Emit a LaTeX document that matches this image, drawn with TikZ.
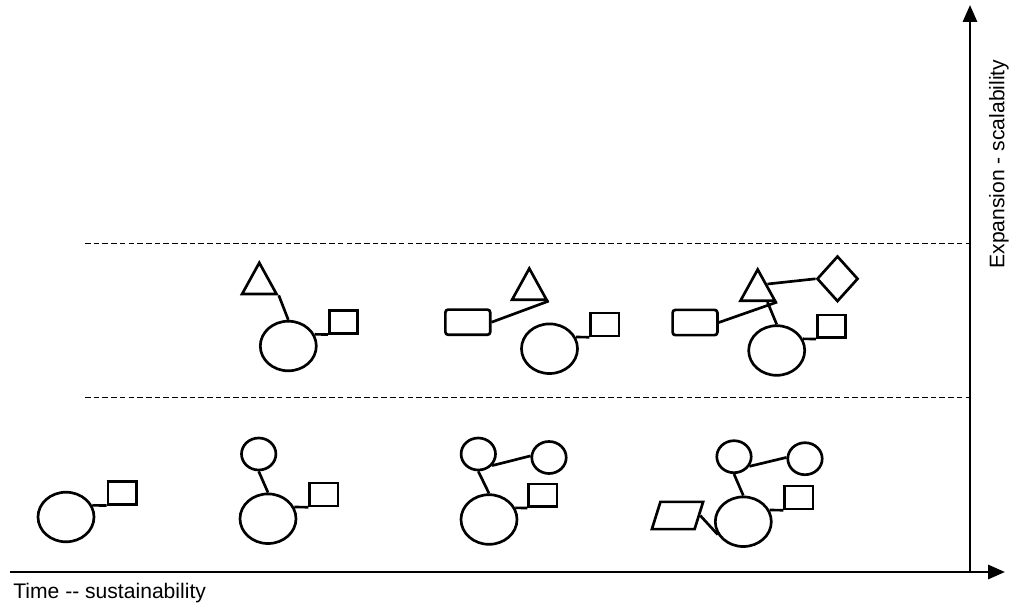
\documentclass[tikz,border=0pt]{standalone}
\usepackage{fontspec}
\setmainfont{Liberation Sans}
\usetikzlibrary{calc,arrows.meta,shapes.geometric}

\begin{document}
\begin{tikzpicture}[x=0.025cm,y=-0.025cm,line width=1.9pt,
	bigell/.style={draw,ellipse,inner sep=0,minimum width=1.4cm,minimum height=1.24cm},
	smallell/.style={draw,ellipse,inner sep=0,minimum width=0.86cm,minimum height=0.8cm},
	sqbox/.style={draw,rectangle,inner sep=0,minimum width=0.71cm,minimum height=0.57cm,anchor=south west},
	roundbox/.style={draw,rectangle,rounded corners=2pt,inner sep=0,minimum width=1.12cm,minimum height=0.63cm},
	tribox/.style={draw,isosceles triangle,isosceles triangle stretches,rotate=90,inner sep=0,minimum width=0.86cm,minimum height=0.78cm,anchor=apex},
	diambox/.style={draw,diamond,inner sep=0,minimum width=1.03cm,minimum height=1.14cm},
	parabox/.style={draw,trapezium,trapezium stretches,trapezium left angle=76,trapezium right angle=104,inner sep=1pt,minimum width=1.28cm,minimum height=0.68cm},
	level/.style={line width=0.7pt,dash pattern=on 4pt off 2.2pt},
	axis/.style={line width=1.8pt,-{Triangle[length=12pt,width=10pt]}},
	lbl/.style={inner sep=0,font=\fontsize{15}{18}\selectfont}]
			%%%%% START %%%%%
			
			\useasboundingbox (0,0) rectangle (1013,607);
			
			\coordinate (orig) at (970,572);
			\coordinate (xstart) at (10,572);
			\coordinate (xend) at (1005,572);
			\coordinate (yend) at (970,5);
			\draw[axis] (xstart) -- (xend);
			\draw[axis] (orig) -- (yend);
			\node[lbl,anchor=north west] (xlabel) at (12,582) {Time -{}- sustainability};
			\node[lbl,rotate=90] (ylabel) at (999,164) {Expansion - scalability};
			
			\coordinate (up1) at (85,243);
			\coordinate (up2) at (970,243);
			\coordinate (low1) at (85,397);
			\coordinate (low2) at (970,397);
			\draw[level] (up1) -- (up2);
			\draw[level] (low1) -- (low2);
			
			\node[bigell] (e1) at (66,517) {};
			\node[sqbox] (s1) at (106.7,505.5) {};
			\draw (e1.24) -- (s1.south west);
			
			\node[smallell] (c2) at (258.7,454) {};
			\node[bigell] (e2) at (268,518.7) {};
			\node[sqbox] (s2) at (308.3,507.2) {};
			\draw (c2.south) -- (e2.north);
			\draw (e2.24) -- (s2.south west);
			
			\node[smallell] (c3a) at (478.3,454) {};
			\node[smallell] (c3b) at (549,457.5) {};
			\node[bigell] (e3) at (489,519.5) {};
			\node[sqbox] (s3) at (527.3,508) {};
			\draw (c3a.-40) -- (c3b.175);
			\draw (c3a.south) -- (e3.north);
			\draw (e3.24) -- (s3.south west);
			
			\node[smallell] (c4a) at (734,456.7) {};
			\node[smallell] (c4b) at (805,458.7) {};
			\node[bigell] (e4) at (743.3,521.7) {};
			\node[sqbox] (s4) at (783.3,510.2) {};
			\node[parabox] (p4) at (677.5,515.5) {};
			\draw (c4a.-32) -- (c4b.176);
			\draw (c4a.south) -- (e4.north);
			\draw (e4.24) -- (s4.south west);
			\draw (p4.east) -- (e4.207);
			
			\node[tribox] (t1) at (259.3,259.3) {};
			\node[bigell] (e5) at (288.3,346) {};
			\node[sqbox] (s5) at (328,334.5) {};
			\draw (t1.right corner) -- (e5.north);
			\draw (e5.24) -- (s5.south west);
			
			\node[tribox] (t2) at (529.3,265) {};
			\node[roundbox] (r2) at (467.8,322.2) {};
			\node[bigell] (e6) at (549.5,348.7) {};
			\node[sqbox] (s6) at (589.3,337.2) {};
			\draw (r2.east) -- (t2.right corner);
			\draw (e6.24) -- (s6.south west);
			
			\node[tribox] (t3) at (757.7,266) {};
			\node[diambox] (d3) at (837.5,278.8) {};
			\node[roundbox] (r3) at (695,322.5) {};
			\node[bigell] (e7) at (776.7,350.5) {};
			\node[sqbox] (s7) at (816,339) {};
			\draw (t3.right side) -- (d3.west);
			\draw (r3.east) -- (t3.right corner);
			\draw ($(t3.lower side)!0.5!(t3.right corner)$) -- (e7.north);
			\draw (e7.24) -- (s7.south west);
			
			%%%%% END %%%%%
\end{tikzpicture}
\end{document}
